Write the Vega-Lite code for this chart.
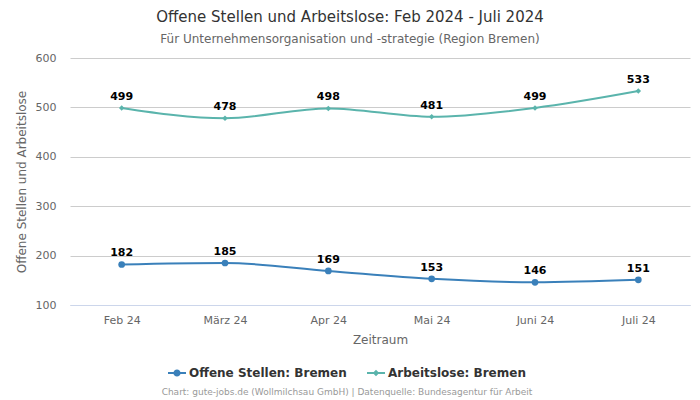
{
  "$schema": "https://vega.github.io/schema/vega-lite/v6.json",
  "width": 620,
  "height": 247,
  "autosize": {"type": "none"},
  "padding": {"left": 70, "top": 58, "right": 10, "bottom": 95},
  "config": {
    "view": {"stroke": null},
    "font": "DejaVu Sans"
  },
  "title": {
    "text": "Offene Stellen und Arbeitslose: Feb 2024 - Juli 2024",
    "subtitle": "Für Unternehmensorganisation und -strategie (Region Bremen)",
    "anchor": "middle",
    "dx": -30,
    "offset": 7,
    "font": "DejaVu Sans",
    "fontSize": 15,
    "fontWeight": "normal",
    "color": "#333333",
    "subtitleFont": "DejaVu Sans",
    "subtitleFontSize": 12,
    "subtitleColor": "#666666",
    "subtitlePadding": 9
  },
  "data": {
    "values": [
      {"Monat": "Feb 24", "Reihe": "Offene Stellen: Bremen", "Wert": 182},
      {"Monat": "März 24", "Reihe": "Offene Stellen: Bremen", "Wert": 185},
      {"Monat": "Apr 24", "Reihe": "Offene Stellen: Bremen", "Wert": 169},
      {"Monat": "Mai 24", "Reihe": "Offene Stellen: Bremen", "Wert": 153},
      {"Monat": "Juni 24", "Reihe": "Offene Stellen: Bremen", "Wert": 146},
      {"Monat": "Juli 24", "Reihe": "Offene Stellen: Bremen", "Wert": 151},
      {"Monat": "Feb 24", "Reihe": "Arbeitslose: Bremen", "Wert": 499},
      {"Monat": "März 24", "Reihe": "Arbeitslose: Bremen", "Wert": 478},
      {"Monat": "Apr 24", "Reihe": "Arbeitslose: Bremen", "Wert": 498},
      {"Monat": "Mai 24", "Reihe": "Arbeitslose: Bremen", "Wert": 481},
      {"Monat": "Juni 24", "Reihe": "Arbeitslose: Bremen", "Wert": 499},
      {"Monat": "Juli 24", "Reihe": "Arbeitslose: Bremen", "Wert": 533}
    ]
  },
  "encoding": {
    "x": {
      "field": "Monat",
      "type": "ordinal",
      "sort": ["Feb 24", "März 24", "Apr 24", "Mai 24", "Juni 24", "Juli 24"],
      "scale": {"type": "point", "padding": 0.5},
      "axis": {
        "title": "Zeitraum",
        "titleFont": "DejaVu Sans",
        "titleFontSize": 12,
        "titleFontWeight": "normal",
        "titleColor": "#666666",
        "titlePadding": 9,
        "labelFont": "DejaVu Sans",
        "labelFontSize": 11,
        "labelColor": "#666666",
        "labelAngle": 0,
        "labelPadding": 9,
        "ticks": false,
        "domainColor": "#ccd6eb",
        "grid": false
      }
    },
    "y": {
      "field": "Wert",
      "type": "quantitative",
      "scale": {"domain": [100, 600], "nice": false, "zero": false},
      "axis": {
        "title": "Offene Stellen und Arbeitslose",
        "titleFont": "DejaVu Sans",
        "titleFontSize": 12,
        "titleFontWeight": "normal",
        "titleColor": "#666666",
        "titlePadding": 7,
        "labelFont": "DejaVu Sans",
        "labelFontSize": 11,
        "labelColor": "#666666",
        "labelPadding": 14,
        "values": [100, 200, 300, 400, 500, 600],
        "ticks": false,
        "domain": false,
        "gridColor": "#cccccc",
        "gridWidth": 1
      }
    }
  },
  "layer": [
    {
      "mark": {"type": "line", "interpolate": "monotone", "strokeWidth": 2},
      "encoding": {
        "color": {
          "field": "Reihe",
          "type": "nominal",
          "scale": {
            "domain": ["Offene Stellen: Bremen", "Arbeitslose: Bremen"],
            "range": ["#3a80ba", "#5ab4ac"]
          },
          "legend": {
            "orient": "none",
            "legendX": 92,
            "legendY": 306,
            "direction": "horizontal",
            "title": "Chart: gute-jobs.de (Wollmilchsau GmbH) | Datenquelle: Bundesagentur für Arbeit",
            "titleOrient": "bottom",
            "titleAnchor": "middle",
            "titleFont": "DejaVu Sans",
            "titleFontSize": 9,
            "titleFontWeight": "normal",
            "titleColor": "#999999",
            "titlePadding": 9,
            "titleLimit": 500,
            "labelFont": "DejaVu Sans",
            "labelFontSize": 12,
            "labelFontWeight": "bold",
            "labelColor": "#333333",
            "labelOffset": 3,
            "columnPadding": 20,
            "symbolSize": 324,
            "symbolStrokeWidth": 0,
            "encode": {
              "symbols": {
                "update": {
                  "shape": {"signal": "datum.value === 'Offene Stellen: Bremen' ? 'M-1,-0.11L1,-0.11L1,0.11L-1,0.11ZM0.4,0A0.4,0.4,0,1,1,-0.4,0A0.4,0.4,0,1,1,0.4,0Z' : 'M-1,-0.11L1,-0.11L1,0.11L-1,0.11ZM0,-0.36L0.36,0L0,0.36L-0.36,0Z'"},
                  "fill": {"signal": "datum.value === 'Offene Stellen: Bremen' ? '#3a80ba' : '#5ab4ac'"},
                  "fillOpacity": {"value": 1},
                  "strokeWidth": {"value": 0}
                }
              }
            }
          }
        }
      }
    },
    {
      "transform": [{"filter": "datum.Reihe === 'Offene Stellen: Bremen'"}],
      "mark": {"type": "point", "shape": "circle", "filled": true, "opacity": 1, "size": 45, "color": "#3a80ba"}
    },
    {
      "transform": [{"filter": "datum.Reihe === 'Arbeitslose: Bremen'"}],
      "mark": {"type": "point", "shape": "diamond", "filled": true, "opacity": 1, "size": 30, "color": "#5ab4ac"}
    },
    {
      "mark": {
        "type": "text",
        "dy": -11,
        "font": "DejaVu Sans",
        "fontSize": 11,
        "fontWeight": "bold",
        "color": "#000000"
      },
      "encoding": {
        "text": {"field": "Wert", "type": "quantitative"}
      }
    }
  ]
}
